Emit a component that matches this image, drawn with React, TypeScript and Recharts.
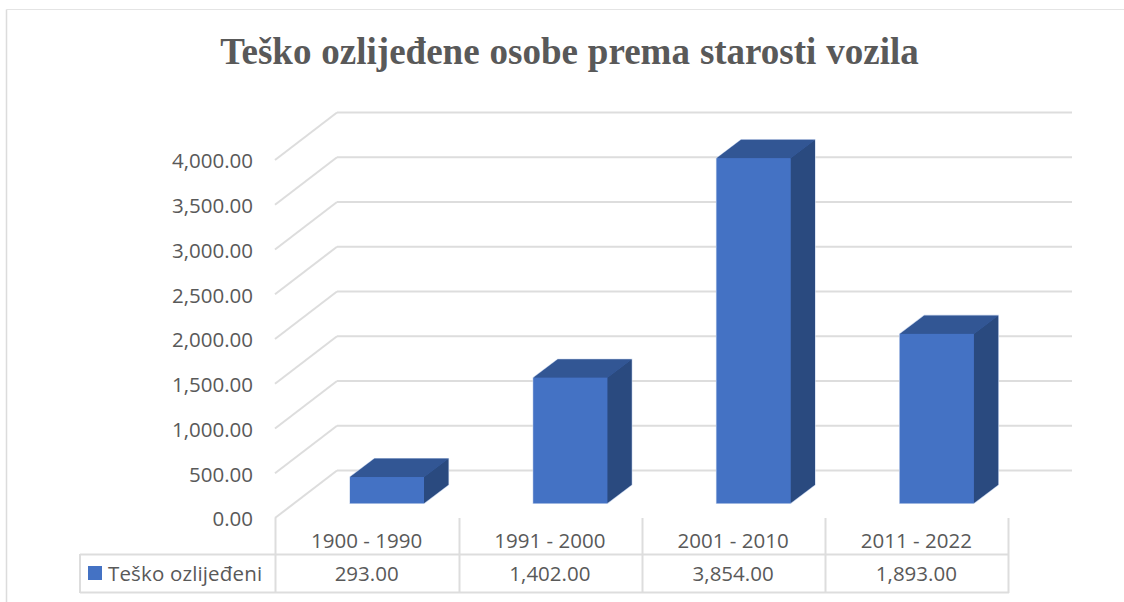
import React from "react";
import { BarChart, Bar, XAxis, YAxis, CartesianGrid } from "recharts";

const categories = ["1900 - 1990", "1991 - 2000", "2001 - 2010", "2011 - 2022"];
const values = [293, 1402, 3854, 1893];
const yTicks = [0, 500, 1000, 1500, 2000, 2500, 3000, 3500, 4000];
const seriesName = "Teško ozlijeđeni";
const title = "Teško ozlijeđene osobe prema starosti vozila";

const data = categories.map((name, i) => ({ name, value: values[i] }));

const fmt = (v: number) =>
  v.toLocaleString("en-US", { minimumFractionDigits: 2, maximumFractionDigits: 2 });

const LINE = "#dddddd";
const TEXT = "#595959";
const FONT = "'Open Sans', sans-serif";
const FONT_SIZE = 20.5;

// 3d look: back wall is the front plane shifted by this much
const WALL_DX = 62;
const WALL_DY = -47.5;
// bars stand in the middle of the floor
const BAR_DX = 20;
const BAR_DY = -14.7;
const DEPTH_DX = 24.5;
const DEPTH_DY = -18.5;

function GridLine(props: any) {
  const { x1, x2, y1 } = props;
  return (
    <g>
      <line x1={x1} y1={y1} x2={x1 + WALL_DX} y2={y1 + WALL_DY} stroke={LINE} strokeWidth={2} />
      <line x1={x1 + WALL_DX} y1={y1 + WALL_DY} x2={x2 + WALL_DX + 2} y2={y1 + WALL_DY} stroke={LINE} strokeWidth={2} />
    </g>
  );
}

function Box3D(props: any) {
  const { x, y, width, height } = props;
  const l = x + BAR_DX;
  const r = l + width;
  const t = y + BAR_DY;
  const b = t + height;
  const dx = DEPTH_DX;
  const dy = DEPTH_DY;
  return (
    <g>
      <polygon
        points={`${l},${t} ${l + dx},${t + dy} ${r + dx},${t + dy} ${r + dx},${b + dy} ${r},${b} ${l},${b}`}
        fill="#4472c4"
        stroke="#c6d4ec"
        strokeWidth={1.2}
      />
      <polygon points={`${l},${t} ${r},${t} ${r + dx},${t + dy} ${l + dx},${t + dy}`} fill="#325694" />
      <polygon points={`${r},${t} ${r + dx},${t + dy} ${r + dx},${b + dy} ${r},${b}`} fill="#2a4a7f" />
      <rect x={l} y={t} width={width} height={height} fill="#4472c4" />
    </g>
  );
}

function TableTick(props: any) {
  const { x, y, payload, index } = props;
  return (
    <g fontFamily={FONT} fontSize={FONT_SIZE} textAnchor="middle">
      <text x={x} y={y + 22} fill={TEXT}>{payload.value}</text>
      <text x={x} y={y + 55} fill={TEXT}>{fmt(values[index])}</text>
    </g>
  );
}

export default function App() {
  return (
    <div style={{ position: "absolute", left: 0, top: 0, width: 1124, height: 602, background: "#fff" }}>
      <BarChart
        width={1124}
        height={602}
        data={data}
        margin={{ top: 160, right: 116, left: 0, bottom: 0 }}
        barSize={74}
      >
        {/* chart frame, only left and top show in the crop */}
        <line x1={6.5} y1={9.5} x2={1124} y2={9.5} stroke="#e4e4e4" strokeWidth={1} />
        <line x1={6.5} y1={9.5} x2={6.5} y2={602} stroke="#dcdcdc" strokeWidth={1.5} />
        <text
          x={569.5}
          y={64}
          textAnchor="middle"
          fontFamily="'Liberation Serif', serif"
          fontWeight="bold"
          fontSize={37}
          wordSpacing={0.7}
          fill={TEXT}
        >
          {title}
        </text>
        <CartesianGrid vertical={false} horizontal={GridLine as any} />
        <XAxis
          dataKey="name"
          axisLine={false}
          tickLine={false}
          height={84}
          interval={0}
          tick={TableTick as any}
        />
        <YAxis
          domain={[0, 4000]}
          ticks={yTicks}
          width={275}
          axisLine={false}
          tickLine={false}
          tickMargin={16}
          tickFormatter={fmt}
          tick={{ fill: TEXT, fontSize: FONT_SIZE, fontFamily: FONT, dy: 1 }}
        />
        <Bar dataKey="value" name={seriesName} shape={Box3D as any} isAnimationActive={false} />

        {/* data table under the axis */}
        <g stroke={LINE} strokeWidth={2}>
          <line x1={80} y1={554.5} x2={1009} y2={554.5} />
          <line x1={80} y1={592.5} x2={1009} y2={592.5} />
          <line x1={80} y1={554} x2={80} y2={593} />
          <line x1={275.5} y1={518} x2={275.5} y2={593} />
          <line x1={459.5} y1={518} x2={459.5} y2={593} />
          <line x1={642.5} y1={518} x2={642.5} y2={593} />
          <line x1={825.5} y1={518} x2={825.5} y2={593} />
          <line x1={1008.5} y1={518} x2={1008.5} y2={593} />
        </g>
        <rect x={88} y={566} width={14} height={14} fill="#4472c4" />
        <text x={108} y={581} fontFamily={FONT} fontSize={FONT_SIZE} letterSpacing={0.15} fill={TEXT}>
          {seriesName}
        </text>
      </BarChart>
    </div>
  );
}
